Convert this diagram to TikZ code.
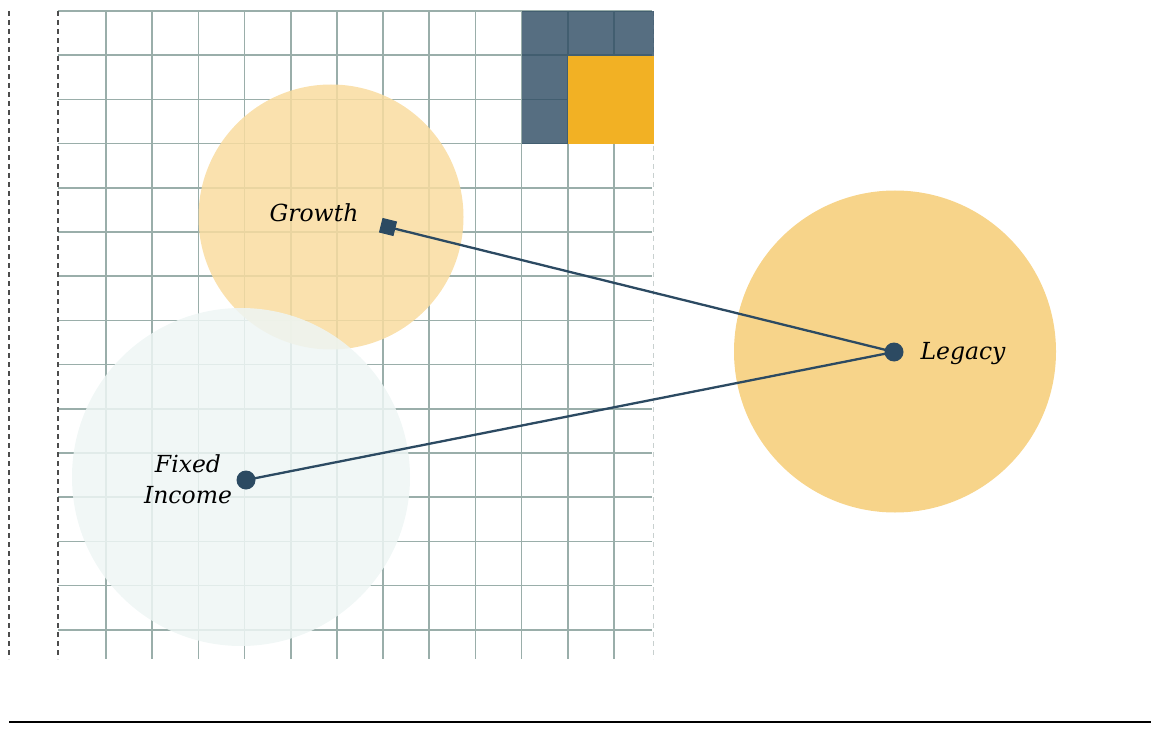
\documentclass[tikz,border=0pt]{standalone}
\usepackage{fontspec}
\setmainfont{DejaVu Serif}
\begin{document}
\begin{tikzpicture}[x=1pt,y=-1pt,
  gridline/.style={draw=gridc,line width=1.7pt},
  dashedge/.style={draw=#1,line width=1.3pt,dash pattern=on 5pt off 4pt},
  blob/.style={circle,inner sep=0pt,minimum size=#1},
  link/.style={draw=linkc,line width=2.3pt},
  dotnode/.style={circle,fill=linkc,inner sep=0pt,minimum size=19pt},
  sqnode/.style={rectangle,fill=linkc,inner sep=0pt,minimum size=15pt},
  lbl/.style={font=\fontsize{23.5}{31}\selectfont\itshape,inner sep=0pt,text=black}]
\definecolor{gridc}{HTML}{9AAEAA}
\definecolor{linkc}{HTML}{2C4A62}
\definecolor{growc}{HTML}{F9DCA0}
\definecolor{fixc}{HTML}{EEF6F5}
\definecolor{legc}{HTML}{F7D48A}
\definecolor{orc}{HTML}{F2B124}
\definecolor{edgec}{HTML}{C8D0CF}
\useasboundingbox (0,0) rectangle (1151,730);
% grid
\foreach \k in {1,...,12} \draw[gridline] ({60+46.15*\k},11) -- ({60+46.15*\k},659);
\foreach \k in {0,...,14} \draw[gridline] (58,{11+44.2*\k}) -- (652,{11+44.2*\k});
\draw[dashedge=black!70] (58,11) -- (58,659);
\draw[dashedge=black!70] (9,11) -- (9,659);
\draw[dashedge=edgec] (653.5,11) -- (653.5,659);
% circles
\node[blob=265pt,fill=growc,fill opacity=0.85] (cgrowth) at (331,217) {};
\node[blob=338pt,fill=fixc,fill opacity=0.85] (cfixed) at (241,477) {};
\node[blob=322pt,fill=legc] (clegacy) at (895,351.5) {};
% top-right squares
\fill[linkc,fill opacity=0.8] (522,11) rectangle (654,144);
\fill[orc] (568,56) rectangle (654,144);
% connectors
\node[sqnode,rotate=-14] (growth) at (388,227) {};
\node[dotnode] (legacy) at (894,352) {};
\node[dotnode] (fixed) at (246,480) {};
\draw[link] (growth.center) -- (legacy.center);
\draw[link] (fixed.center) -- (legacy.center);
% labels
\node[lbl,anchor=base] (lgrowth) at (314,222) {Growth};
\node[lbl,anchor=base] (llegacy) at (963,359) {Legacy};
\node[lbl,align=center] (lfixed) at (188,479) {Fixed\\Income};
% bottom rule
\draw[line width=1.4pt] (9,722) coordinate (r1) -- (1151,722) coordinate (r2);
\end{tikzpicture}
\end{document}
